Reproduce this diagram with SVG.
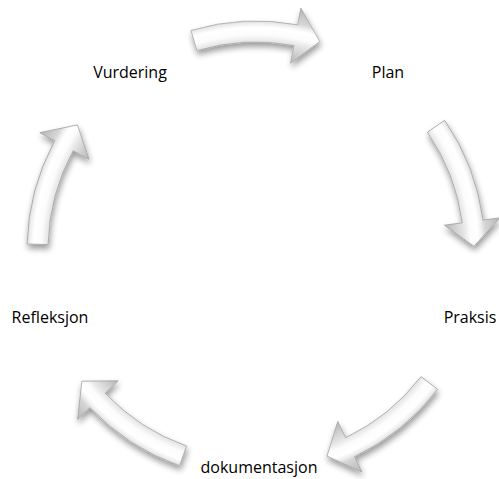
<svg xmlns="http://www.w3.org/2000/svg" xmlns:xlink="http://www.w3.org/1999/xlink" width="499" height="479" viewBox="0 0 499 479">
<style>
.lbl{font-family:"Open Sans","Liberation Sans",sans-serif;font-size:16px;fill:#000;text-anchor:middle}
.arw{fill:url(#bevel);stroke:#a6a6a6;stroke-width:0.8;stroke-linejoin:round}
</style>
<defs>
<radialGradient id="bevel" gradientUnits="userSpaceOnUse" cx="256" cy="250" r="250">
<stop offset="0.74" stop-color="#a9a9a9"/>
<stop offset="0.80" stop-color="#cfcfcf"/>
<stop offset="0.835" stop-color="#e6e6e6"/>
<stop offset="0.86" stop-color="#fcfcfc"/>
<stop offset="0.89" stop-color="#ffffff"/>
<stop offset="0.905" stop-color="#efefef"/>
<stop offset="0.92" stop-color="#d6d6d6"/>
<stop offset="0.99" stop-color="#b2b2b2"/>
</radialGradient>
<filter id="shadow" x="-30%" y="-30%" width="160%" height="160%">
<feGaussianBlur in="SourceAlpha" stdDeviation="3"/>
<feOffset dx="1" dy="4" result="b"/>
<feComponentTransfer><feFuncA type="linear" slope="0.4"/></feComponentTransfer>
<feMerge><feMergeNode/><feMergeNode in="SourceGraphic"/></feMerge>
</filter>
<path id="arrow" class="arw" d="M190.96,30.43 A229,229 0 0 1 297.72,24.82 L300.82,8.11 L319.74,41.53 L290.62,63.17 L293.90,45.47 A208,208 0 0 0 196.93,50.57 Z"/>
</defs>
<g id="connectors">
<g filter="url(#shadow)"><use xlink:href="#arrow"/></g>
<g filter="url(#shadow)"><use xlink:href="#arrow" transform="rotate(72 256 250)"/></g>
<g filter="url(#shadow)"><use xlink:href="#arrow" transform="rotate(144 256 250)"/></g>
<g filter="url(#shadow)"><use xlink:href="#arrow" transform="rotate(216 256 250)"/></g>
<g filter="url(#shadow)"><use xlink:href="#arrow" transform="rotate(288 256 250)"/></g>
</g>
<g id="node-plan"><text class="lbl" x="388" y="78">Plan</text></g>
<g id="node-praksis"><text class="lbl" x="470" y="323">Praksis</text></g>
<g id="node-dokumentasjon"><text class="lbl" x="259" y="473">dokumentasjon</text></g>
<g id="node-refleksjon"><text class="lbl" x="50" y="323">Refleksjon</text></g>
<g id="node-vurdering"><text class="lbl" x="130" y="78">Vurdering</text></g>
</svg>
